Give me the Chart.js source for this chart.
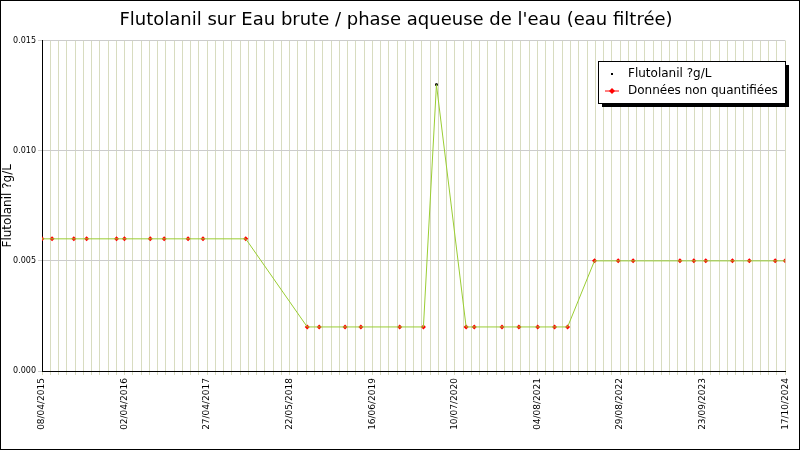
<!DOCTYPE html>
<html><head><meta charset="utf-8">
<script src="https://cdn.jsdelivr.net/npm/chart.js@4/dist/chart.umd.min.js"></script>
<style>
body{margin:0;background:#fff}
#wrap{width:798px;height:448px;border:1px solid #000;position:relative}
</style></head>
<body><div id="wrap"><canvas id="c" width="798" height="448"></canvas></div>
<script>
// days since 08/04/2015
const startDate = new Date(2015, 3, 8);
const sampleDates = ['2015-04-08','2015-05-25','2015-09-04','2015-11-03','2016-03-22','2016-04-28','2016-08-27','2016-10-31','2017-02-20','2017-05-01','2017-11-17','2018-09-01','2018-10-27','2019-02-25','2019-05-10','2019-11-08','2020-02-27','2020-04-28','2020-09-14','2020-10-22','2021-03-01','2021-05-19','2021-08-15','2021-11-02','2022-01-02','2022-05-08','2022-08-27','2022-11-05','2023-06-12','2023-08-16','2023-10-11','2024-02-13','2024-05-02','2024-08-31','2024-10-17'];
const sampleValues = [0.006,0.006,0.006,0.006,0.006,0.006,0.006,0.006,0.006,0.006,0.006,0.002,0.002,0.002,0.002,0.002,0.002,0.013,0.002,0.002,0.002,0.002,0.002,0.002,0.002,0.005,0.005,0.005,0.005,0.005,0.005,0.005,0.005,0.005,0.005];
const quantified = [false,false,false,false,false,false,false,false,false,false,false,false,false,false,false,false,false,true,false,false,false,false,false,false,false,false,false,false,false,false,false,false,false,false,false];
const tickLabels = ['08/04/2015','02/04/2016','27/04/2017','22/05/2018','16/06/2019','10/07/2020','04/08/2021','29/08/2022','23/09/2023','17/10/2024'];

const dayOf = s => { const [y,m,d] = s.split('-').map(Number); return Math.round((new Date(y,m-1,d) - startDate)/86400000); };
const xs = sampleDates.map(dayOf);
const allPts = xs.map((x,i) => ({x, y: sampleValues[i]}));
const quantPts = allPts.filter((p,i) => quantified[i]);
const nqPts = allPts.filter((p,i) => !quantified[i]);
const span = 3480;

const legendPlugin = {
  id: 'legendBox',
  afterDraw(chart) {
    const ctx = chart.ctx;
    const x = 597, y = 60, w = 187, h = 42;
    ctx.save();
    ctx.fillStyle = '#000'; ctx.fillRect(x+4, y+4, w, h);
    ctx.fillStyle = '#fff'; ctx.fillRect(x, y, w, h);
    ctx.strokeStyle = '#000'; ctx.lineWidth = 1; ctx.strokeRect(x+0.5, y+0.5, w, h);
    ctx.font = '12px "DejaVu Sans"'; ctx.textBaseline = 'middle';
    ctx.fillStyle = '#000'; ctx.fillText('Flutolanil ?g/L', x+30, y+13);
    ctx.fillText('Données non quantifiées', x+30, y+30);
    ctx.fillRect(x+13, y+12, 2, 2);
    ctx.strokeStyle = 'red'; ctx.beginPath(); ctx.moveTo(x+7, y+30); ctx.lineTo(x+21, y+30); ctx.stroke();
    ctx.fillStyle = 'red'; ctx.beginPath();
    ctx.moveTo(x+14, y+27); ctx.lineTo(x+17, y+30); ctx.lineTo(x+14, y+33); ctx.lineTo(x+11, y+30); ctx.fill();
    ctx.restore();
  }
};

new Chart(document.getElementById('c'), {
  type: 'scatter',
  data: { datasets: [
    { data: allPts, showLine: true, borderColor: '#9acd32', borderWidth: 1, pointRadius: 0 },
    { data: quantPts, pointStyle: 'rect', pointRadius: 1.2, backgroundColor: '#000', borderColor: '#000' },
    { data: nqPts, pointStyle: 'rectRot', pointRadius: 2.5, borderWidth: 0, backgroundColor: 'red', borderColor: 'red' }
  ]},
  plugins: [legendPlugin],
  options: {
    responsive: false, animation: false,
    layout: { padding: { right: 8, top: 0, left: 0 } },
    plugins: {
      legend: { display: false }, tooltip: { enabled: false },
      title: { display: true, text: "Flutolanil sur Eau brute / phase aqueuse de l'eau (eau filtrée)",
        color: '#000', font: { family: 'DejaVu Sans', size: 18, weight: 'normal' }, padding: { top: 9, bottom: 9 } }
    },
    scales: {
      x: {
        type: 'linear', min: 0, max: span,
        afterBuildTicks: ax => { ax.ticks = Array.from({length: 91}, (_, i) => ({ value: i*span/90 })); },
        afterFit: ax => { ax.height = 78; },
        ticks: { autoSkip: false, maxRotation: 90, minRotation: 90, color: '#000',
          font: { family: 'DejaVu Sans', size: 9 },
          callback: (v, i) => i % 10 === 0 ? tickLabels[i/10] : '' },
        grid: { color: '#d8dcc0', tickLength: 4 },
        border: { color: '#000' }
      },
      y: {
        min: 0, max: 0.015,
        afterBuildTicks: ax => { ax.ticks = Array.from({length: 16}, (_, i) => ({ value: i*0.001 })); },
        afterFit: ax => { ax.width = 41; },
        ticks: { color: '#000', font: { family: 'DejaVu Sans', size: 8 }, padding: 2,
          callback: (v, i) => i % 5 === 0 ? v.toFixed(3) : '' },
        grid: { color: (c) => c.index % 5 === 0 ? '#cccccc' : 'rgba(0,0,0,0)', tickLength: 4 },
        border: { color: '#000' },
        title: { display: true, text: 'Flutolanil ?g/L', color: '#000', padding: 0, font: { family: 'DejaVu Sans', size: 12 } }
      }
    }
  }
});
</script></body></html>
